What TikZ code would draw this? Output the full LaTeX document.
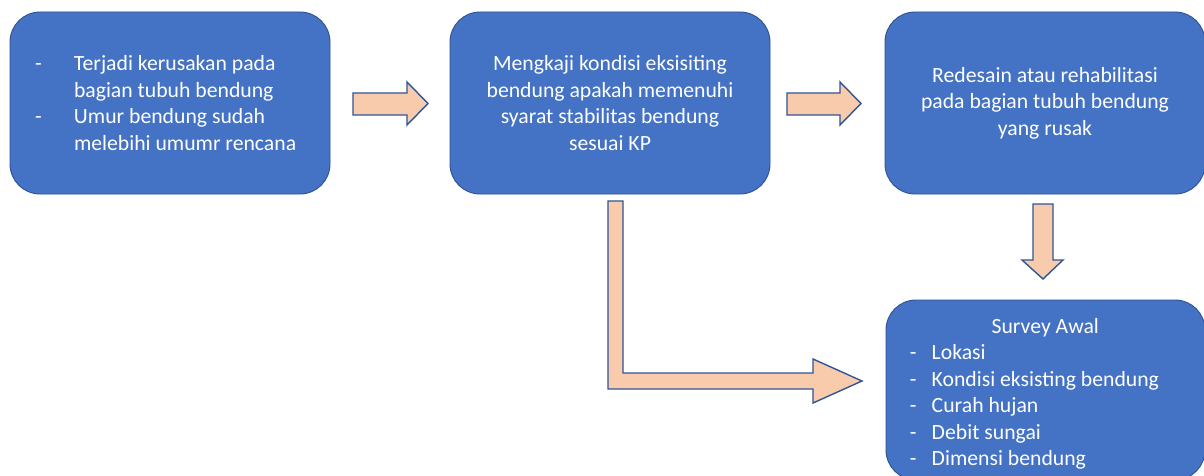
\documentclass[tikz,border=0pt]{standalone}
\usepackage{fontspec}
\setmainfont{Carlito}
\definecolor{boxfill}{HTML}{4472C4}
\definecolor{boxline}{HTML}{2F528F}
\definecolor{arrfill}{HTML}{F8CBAD}
\definecolor{arrline}{HTML}{2F5597}
\tikzset{
  stagebox/.style={draw=boxline, line width=0.9pt, fill=boxfill, rounded corners=30pt,
    minimum width=320pt, minimum height=182pt, text=white, inner ysep=0pt,
    font=\fontsize{21.7}{26.5}\selectfont},
  listtext/.style={text=white, inner sep=0pt, align=left,
    font=\fontsize{21.7}{26.5}\selectfont},
  blockarrow/.style={draw=arrline, line width=1.4pt, fill=arrfill, line join=miter}
}
\begin{document}
\begin{tikzpicture}[x=1pt,y=-1pt]
\useasboundingbox (0,0) rectangle (1204,476);
\clip (0,0) rectangle (1204,476);
\fill[white] (0,0) rectangle (1204,476);

\node[stagebox, text width=270pt, inner xsep=25pt, align=left] (b1) at (170,103)
  {\spaceskip=0pt\xspaceskip=0pt\relax
   \makebox[39pt][l]{-}Terjadi kerusakan pada\\
   \hspace*{39pt}bagian tubuh bendung\\
   \makebox[39pt][l]{-}Umur bendung sudah\\
   \hspace*{39pt}melebihi umumr rencana};

\node[stagebox, align=center] (b2) at (610,103)
  {Mengkaji kondisi eksisiting\\bendung apakah memenuhi\\syarat stabilitas bendung\\sesuai KP};

\node[stagebox, align=center] (b3) at (1045,103)
  {Redesain atau rehabilitasi\\pada bagian tubuh bendung\\yang rusak};

\node[stagebox, minimum width=319pt, minimum height=180pt] (b4) at (1045.5,390) {};
\node[listtext, text width=271pt, anchor=north west] (b4text) at ([xshift=24pt]b4.west |- 0,318)
  {\spaceskip=0pt\xspaceskip=0pt\relax
   \makebox[271pt]{Survey Awal}\\
   \makebox[22pt][l]{-}Lokasi\\
   \makebox[22pt][l]{-}Kondisi eksisting bendung\\
   \makebox[22pt][l]{-}Curah hujan\\
   \makebox[22pt][l]{-}Debit sungai\\
   \makebox[22pt][l]{-}Dimensi bendung};

% block arrows
\draw[blockarrow] (353,93) -- (407,93) -- (407,82) -- (428,103.5) -- (407,125) -- (407,115) -- (353,115) -- cycle;
\draw[blockarrow] (787,93) -- (840,93) -- (840,82) -- (861,103.5) -- (840,125) -- (840,115) -- (787,115) -- cycle;
\draw[blockarrow] (1033,204) -- (1053,204) -- (1053,260) -- (1063,260) -- (1043,279) -- (1022,260) -- (1033,260) -- cycle;
\draw[blockarrow] (608,201) -- (623,201) -- (623,373) -- (813,373) -- (813,359) -- (862,381) -- (813,403) -- (813,389) -- (608,389) -- cycle;
\end{tikzpicture}
\end{document}
